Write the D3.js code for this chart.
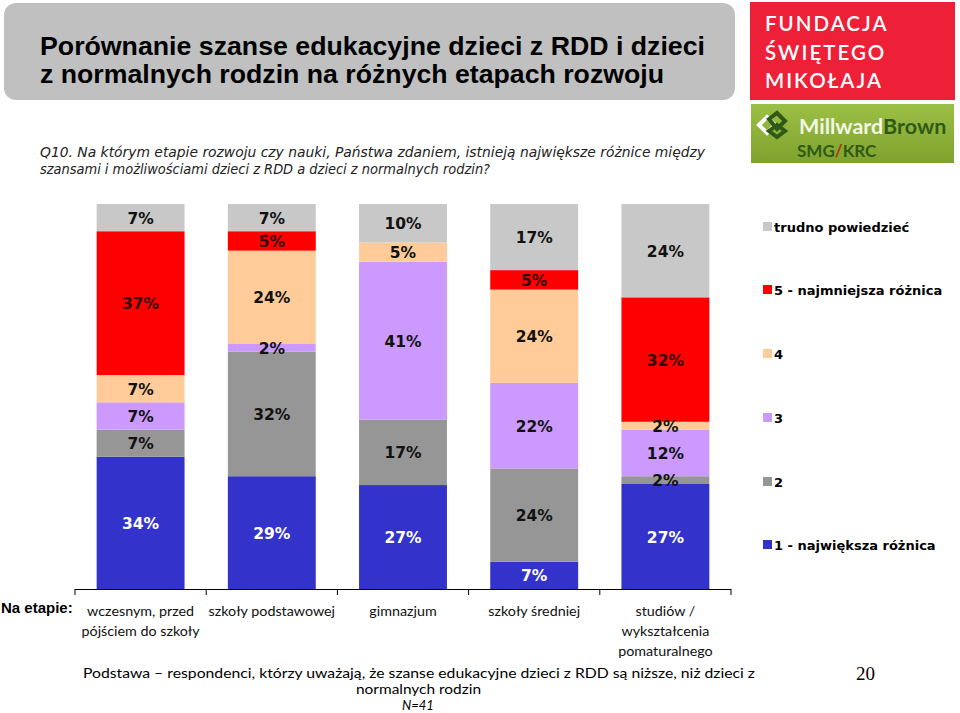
<!DOCTYPE html>
<html><head><meta charset="utf-8">
<script src="https://cdn.jsdelivr.net/npm/d3@7"></script>
<style>
html,body{margin:0;padding:0;background:#fff;}
svg{display:block;}
</style>
</head><body>
<svg id="chart" width="960" height="713"></svg>
<script>
// ---- data ----
const categories = ["c1","c2","c3","c4","c5"];
const categoryLabels = [
  ["wczesnym, przed","pójściem do szkoły"],
  ["szkoły podstawowej"],
  ["gimnazjum"],
  ["szkoły średniej"],
  ["studiów /","wykształcenia","pomaturalnego"]
];
const seriesNames = ["1 - największa różnica","2","3","4","5 - najmniejsza różnica","trudno powiedzieć"];
const s1 = [34, 29, 27, 7, 27];
const s2 = [7, 32, 17, 24, 2];
const s3 = [7, 2, 41, 22, 12];
const s4 = [7, 24, 5, 24, 2];
const s5 = [37, 5, 0, 5, 32];
const sTrudno = [7, 7, 10, 17, 24];
const seriesColors = ["#3333CC","#969696","#CC99FF","#FFCC99","#FF0000","#C8C8C8"];
const labelColors = ["#ffffff","#111111","#111111","#111111","#330000","#111111"];

const seriesValues = [s1,s2,s3,s4,s5,sTrudno];
const rows = categories.map((c,i)=>{
  const r = {cat:c};
  seriesNames.forEach((s,j)=>{ r[s] = seriesValues[j][i]; });
  return r;
});

const svg = d3.select("#chart");

// ---- header ----
svg.append("rect").attr("x",4).attr("y",3).attr("width",731).attr("height",97)
  .attr("rx",12).attr("fill","#C0C0C0");
const title = svg.append("text").attr("font-family","Liberation Sans, Arial, sans-serif")
  .attr("font-weight","bold").attr("font-size",26).attr("fill","#000");
title.append("tspan").attr("x",40).attr("y",55).attr("textLength",665).attr("lengthAdjust","spacingAndGlyphs")
  .text("Porównanie szanse edukacyjne dzieci z RDD i dzieci");
title.append("tspan").attr("x",40).attr("y",83).attr("textLength",624).attr("lengthAdjust","spacingAndGlyphs")
  .text("z normalnych rodzin na różnych etapach rozwoju");

// Logo Fundacja
svg.append("rect").attr("x",750).attr("y",2).attr("width",205).attr("height",98).attr("fill","#EE2038");
const fl = svg.append("text").attr("font-family","Lato, Open Sans, sans-serif").attr("font-size",20.5)
  .attr("font-weight",600).attr("letter-spacing",2).attr("fill","#fff");
["FUNDACJA","ŚWIĘTEGO","MIKOŁAJA"].forEach((t,i)=>{
  fl.append("tspan").attr("x",765).attr("y",31+i*28.5).text(t);
});
// Logo MillwardBrown
const defs = svg.append("defs");
const lg = defs.append("linearGradient").attr("id","mbg").attr("x1",0).attr("y1",0).attr("x2",0).attr("y2",1);
lg.append("stop").attr("offset",0).attr("stop-color","#9CBF45");
lg.append("stop").attr("offset",1).attr("stop-color","#7FA22E");
svg.append("rect").attr("x",751).attr("y",104).attr("width",203).attr("height",59).attr("fill","url(#mbg)");
const ic = svg.append("g").attr("transform","translate(767,125)");
ic.append("path").attr("d","M-8,0 L0,-8 L8,0 L0,8 Z").attr("fill","none").attr("stroke","#fff").attr("stroke-width",4);
ic.append("path").attr("d","M2,-6 L10,-12 L18,-4 L10,4 Z").attr("fill","none").attr("stroke","#2F5A16").attr("stroke-width",4);
ic.append("path").attr("d","M2,6 L10,0 L18,6 L10,12 Z").attr("fill","none").attr("stroke","#2F5A16").attr("stroke-width",4);
const mb = svg.append("text").attr("x",799).attr("y",134).attr("font-family","Lato, Open Sans, sans-serif")
  .attr("font-size",21.5).attr("font-weight","bold");
mb.append("tspan").attr("fill","#F2F7E6").text("Millward");
mb.append("tspan").attr("fill","#2F5A16").text("Brown");
const sk = svg.append("text").attr("x",797).attr("y",157).attr("font-family","Lato, Open Sans, sans-serif")
  .attr("font-size",17).attr("font-weight","bold").attr("fill","#2F5A16");
sk.append("tspan").text("SMG");
sk.append("tspan").attr("fill","#B03020").text("/");
sk.append("tspan").text("KRC");

// Question
const q = svg.append("text").attr("font-family","DejaVu Sans, Verdana, sans-serif")
  .attr("font-style","italic").attr("font-size",13.5).attr("fill","#222");
q.append("tspan").attr("x",40).attr("y",157).attr("textLength",665).attr("lengthAdjust","spacingAndGlyphs")
  .text("Q10. Na którym etapie rozwoju czy nauki, Państwa zdaniem, istnieją największe różnice między");
q.append("tspan").attr("x",40).attr("y",174).attr("textLength",450).attr("lengthAdjust","spacingAndGlyphs")
  .text("szansami i możliwościami dzieci z RDD a dzieci z normalnych rodzin?");

// ---- chart ----
const x = d3.scaleBand().domain(categories).range([75,731]).paddingInner(0.33).paddingOuter(0.165);
const y = d3.scaleLinear().domain([0,1]).range([589,204]);
const stack = d3.stack().keys(seriesNames).offset(d3.stackOffsetExpand);
const stacked = stack(rows);

const g = svg.append("g");
stacked.forEach((ser,si)=>{
  const sg = g.append("g");
  sg.selectAll("rect").data(ser).join("rect")
    .attr("x",d=>x(d.data.cat))
    .attr("width",x.bandwidth())
    .attr("y",d=>y(d[1]))
    .attr("height",d=>Math.max(0,y(d[0])-y(d[1])))
    .attr("fill",seriesColors[si]);
});
stacked.forEach((ser,si)=>{
  g.append("g").selectAll("text").data(ser.filter(d=>d.data[ser.key]>0)).join("text")
    .attr("x",d=>x(d.data.cat)+x.bandwidth()/2)
    .attr("y",d=>(y(d[0])+y(d[1]))/2+6)
    .attr("text-anchor","middle")
    .attr("font-family","DejaVu Sans, Verdana, sans-serif")
    .attr("font-weight","bold").attr("font-size",15.5)
    .attr("fill",labelColors[si])
    .text(d=>d.data[ser.key]+"%");
});

// axis line + ticks between categories
const axisG = svg.append("g");
axisG.append("line").attr("x1",x.range()[0]).attr("x2",x.range()[1]).attr("y1",589.5).attr("y2",589.5)
  .attr("stroke","#000").attr("stroke-width",1);
const gap = x.step()*x.paddingInner()/2;
const bounds = [x.range()[0]].concat(categories.map(c=>x(c)+x.bandwidth()+gap));
bounds[bounds.length-1] = x.range()[1];
axisG.selectAll("line.t").data(bounds).join("line").attr("class","t")
  .attr("x1",d=>d).attr("x2",d=>d).attr("y1",589).attr("y2",595).attr("stroke","#000");

// category labels
svg.append("text").attr("x",1).attr("y",613).attr("font-family","Liberation Sans, Arial, sans-serif")
  .attr("font-weight","bold").attr("font-size",15).text("Na etapie:");
categories.forEach((c,i)=>{
  const t = svg.append("text").attr("text-anchor","middle")
    .attr("font-family","Lato, Open Sans, sans-serif").attr("font-size",14.3).attr("fill","#111");
  categoryLabels[i].forEach((line,k)=>{
    t.append("tspan").attr("x",x(c)+x.bandwidth()/2).attr("y",616+k*20).text(line);
  });
});

// legend
const legY = [227,290,354,418,482,545];
const leg = svg.append("g");
const legOrder = seriesNames.slice().reverse();
legOrder.forEach((s,i)=>{
  const ci = seriesNames.indexOf(s);
  leg.append("rect").attr("x",763).attr("y",legY[i]-5).attr("width",9).attr("height",9).attr("fill",seriesColors[ci]);
  leg.append("text").attr("x",774).attr("y",legY[i]+5).attr("font-family","DejaVu Sans, Verdana, sans-serif")
    .attr("font-weight","bold").attr("font-size",13).attr("fill","#000").text(s);
});

// footer
svg.append("text").attr("x",83).attr("y",678).attr("font-family","Lato, Open Sans, sans-serif")
  .attr("font-size",13.5).attr("textLength",672).attr("lengthAdjust","spacingAndGlyphs")
  .text("Podstawa – respondenci, którzy uważają, że szanse edukacyjne dzieci z RDD są niższe, niż dzieci z");
svg.append("text").attr("x",356).attr("y",694).attr("font-family","Lato, Open Sans, sans-serif")
  .attr("font-size",13).attr("textLength",125).attr("lengthAdjust","spacingAndGlyphs").text("normalnych rodzin");
svg.append("text").attr("x",418).attr("y",710).attr("text-anchor","middle").attr("font-family","Lato, Open Sans, sans-serif")
  .attr("font-style","italic").attr("font-size",13).text("N=41");
svg.append("text").attr("x",856).attr("y",680).attr("font-family","Liberation Serif, Times New Roman, serif")
  .attr("font-size",19).text("20");
</script>
</body></html>
